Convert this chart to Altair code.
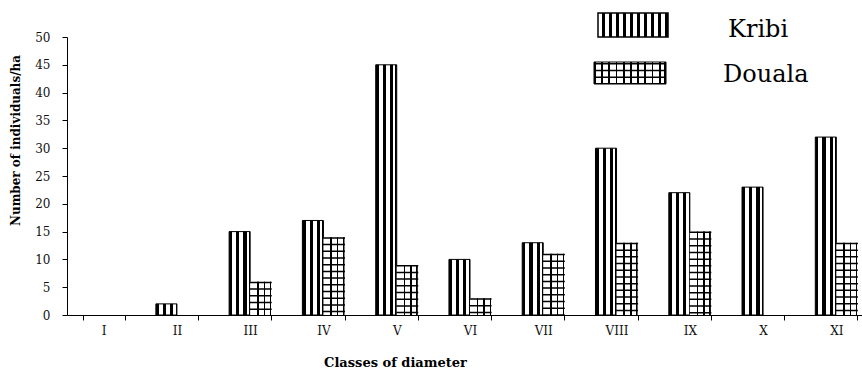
import altair as alt
import pandas as pd

# ---- data ----
classes = ["I", "II", "III", "IV", "V", "VI", "VII", "VIII", "IX", "X", "XI"]
kribi = [0, 2, 15, 17, 45, 10, 13, 30, 22, 23, 32]
douala = [0, 0, 6, 14, 9, 3, 11, 13, 15, 0, 13]
series = ["Kribi", "Douala"]
y_ticks = [0, 5, 10, 15, 20, 25, 30, 35, 40, 45, 50]

rows = []
for c, k, d in zip(classes, kribi, douala):
    rows.append({"cls": c, "series": "Kribi", "value": k})
    rows.append({"cls": c, "series": "Douala", "value": d})
df = pd.DataFrame(rows)
legend_df = pd.DataFrame({"label": series})

FONT = "DejaVu Serif"


def stripes(spans, base="white", ink="black"):
    """Horizontal gradient that draws hard-edged vertical ink stripes."""
    stops = [alt.GradientStop(offset=0, color=base)]
    for a, b in spans:
        stops += [
            alt.GradientStop(offset=a, color=base),
            alt.GradientStop(offset=a, color=ink),
            alt.GradientStop(offset=b, color=ink),
            alt.GradientStop(offset=b, color=base),
        ]
    stops.append(alt.GradientStop(offset=1, color=base))
    return alt.LinearGradient(gradient="linear", stops=stops, x1=0, x2=1, y1=0, y2=0)


kribi_fill = stripes([(0, 0.15), (0.34, 0.49), (0.68, 0.83), (0.94, 1)])
douala_fill = stripes([(0.33, 0.40), (0.64, 0.71), (0.93, 1)])
kribi_swatch = stripes([(i * 0.1 + 0.055, i * 0.1 + 0.1) for i in range(10)])
douala_swatch = stripes([(i * 0.1, i * 0.1 + 0.025) for i in range(10)] + [(0.975, 1)])

x_enc = alt.X(
    "cls:N",
    sort=classes,
    scale=alt.Scale(domain=classes, range=[0, 806], paddingInner=0.425, paddingOuter=0.2125),
    axis=alt.Axis(
        title="Classes of diameter",
        labelAngle=0,
        tickBand="extent",
        tickSize=5,
        domainColor="black",
        tickColor="black",
        labelColor="#111111",
        labelFont=FONT,
        labelFontSize=12,
        labelPadding=5,
        titleFont=FONT,
        titleFontSize=13,
        titleFontWeight="bold",
        titleColor="black",
        titleX=328,
        titleY=47,
        titleAlign="center",
        titleBaseline="middle",
    ),
)
xo_enc = alt.XOffset("series:N", sort=series,
                     scale=alt.Scale(domain=series, paddingInner=0, paddingOuter=0))
y_enc = alt.Y(
    "value:Q",
    scale=alt.Scale(domain=[0, 50], nice=False),
    axis=alt.Axis(
        title="Number of individuals/ha",
        values=y_ticks,
        grid=False,
        tickSize=5,
        labelPadding=12,
        domainColor="black",
        tickColor="black",
        labelColor="#111111",
        labelFont=FONT,
        labelFontSize=12,
        titleFont=FONT,
        titleFontSize=12,
        titleFontWeight="bold",
        titleColor="black",
        titleX=-52,
        titleY=103,
        titleAlign="center",
        titleBaseline="middle",
    ),
)

base = alt.Chart(df)

kribi_bars = base.transform_filter(
    (alt.datum.series == "Kribi") & (alt.datum.value > 0)
).mark_bar(fill=kribi_fill, stroke="black", strokeWidth=1).encode(
    x=x_enc, xOffset=xo_enc, y=y_enc
)

douala_bars = base.transform_filter(
    (alt.datum.series == "Douala") & (alt.datum.value > 0)
).mark_bar(fill=douala_fill, strokeWidth=0).encode(
    x=x_enc, xOffset=xo_enc, y=y_enc
)

douala_hlines = base.transform_filter(
    (alt.datum.series == "Douala") & (alt.datum.value > 0)
).mark_rule(color="black", strokeWidth=22, strokeDash=[1.5, 5.2], strokeCap="butt").encode(
    x=x_enc, xOffset=xo_enc, y=y_enc, y2=alt.datum(0)
)

# ---- hand-drawn legend ----
leg = alt.Chart(legend_df)
sw_kribi = leg.transform_filter(alt.datum.label == "Kribi").mark_rect(
    fill=kribi_swatch, stroke="black", strokeWidth=1.5
).encode(x=alt.value(531), x2=alt.value(601), y=alt.value(-24), y2=alt.value(0))
sw_douala = leg.transform_filter(alt.datum.label == "Douala").mark_rect(
    fill=douala_swatch, stroke="black", strokeWidth=1
).encode(x=alt.value(527), x2=alt.value(599), y=alt.value(25), y2=alt.value(47))
sw_douala_h = leg.transform_filter(alt.datum.label == "Douala").mark_rule(
    color="black", strokeWidth=72, strokeDash=[1.5, 5.2], strokeCap="butt"
).encode(x=alt.value(563), y=alt.value(26), y2=alt.value(47))
txt_kribi = leg.transform_filter(alt.datum.label == "Kribi").mark_text(
    font=FONT, fontSize=24, align="left", baseline="alphabetic", color="black"
).encode(text="label:N", x=alt.value(661), y=alt.value(0))
txt_douala = leg.transform_filter(alt.datum.label == "Douala").mark_text(
    font=FONT, fontSize=24, align="left", baseline="alphabetic", color="black"
).encode(text="label:N", x=alt.value(656), y=alt.value(45))

chart = alt.layer(
    kribi_bars, douala_bars, douala_hlines,
    sw_kribi, sw_douala, sw_douala_h, txt_kribi, txt_douala,
).properties(
    width=795,
    height=278,
    padding={"left": 67, "top": 37, "right": 0, "bottom": 61},
    autosize=alt.AutoSizeParams(type="none"),
    background="white",
).configure_view(stroke=None)

chart.save("out.html", embed_options={"renderer": "svg", "actions": False})
